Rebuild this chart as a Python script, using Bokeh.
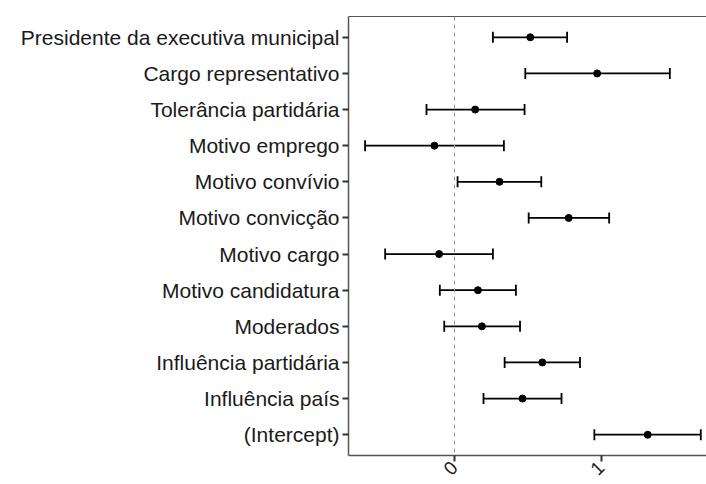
import math
from bokeh.plotting import figure
from bokeh.models import Range1d, FixedTicker, LinearAxis, Span, Whisker, ColumnDataSource, TeeHead
from bokeh.embed import file_html
from bokeh.resources import INLINE

terms = [
    "Presidente da executiva municipal",
    "Cargo representativo",
    "Tolerância partidária",
    "Motivo emprego",
    "Motivo convívio",
    "Motivo convicção",
    "Motivo cargo",
    "Motivo candidatura",
    "Moderados",
    "Influência partidária",
    "Influência país",
    "(Intercept)",
]
estimate = [0.517, 0.973, 0.141, -0.137, 0.307, 0.779, -0.105, 0.160, 0.187, 0.599, 0.464, 1.318]
conf_low = [0.262, 0.483, -0.191, -0.610, 0.021, 0.506, -0.473, -0.100, -0.070, 0.342, 0.198, 0.954]
conf_high = [0.768, 1.469, 0.478, 0.337, 0.592, 1.055, 0.262, 0.419, 0.447, 0.856, 0.730, 1.680]
x_ticks = [0, 1]
x_tick_labels = ["0", "1"]

n = len(terms)
ypos = [n - i for i in range(n)]

src = ColumnDataSource(dict(y=ypos, est=estimate, lo=conf_low, hi=conf_high))

p = figure(width=706, height=484, output_backend="svg", toolbar_location=None,
           x_range=Range1d(-0.723, 1.719), y_range=Range1d(0.425, n + 0.575),
           min_border_left=348, min_border_right=0, min_border_top=16, min_border_bottom=27)
p.background_fill_color = "white"
p.border_fill_color = "white"
p.outline_line_color = None
p.grid.visible = False

# y axis
ya = p.yaxis[0]
ya.ticker = FixedTicker(ticks=ypos)
ya.major_label_overrides = {y: t for y, t in zip(ypos, terms)}
ya.major_label_text_font = "Liberation Sans"
ya.major_label_text_font_size = "21px"
ya.major_label_text_color = "#1a1a1a"
ya.major_tick_out = 6
ya.major_tick_in = 0
ya.minor_tick_line_color = None
ya.major_tick_line_color = "#333333"
ya.major_tick_line_width = 2
ya.axis_line_color = "#555555"
ya.axis_line_width = 1.5
ya.major_label_standoff = 3

# x axis with rotated tick labels
xa = p.xaxis[0]
xa.ticker = FixedTicker(ticks=x_ticks)
xa.major_label_overrides = {v: t for v, t in zip(x_ticks, x_tick_labels)}
xa.major_label_orientation = math.pi / 4
xa.major_label_text_font = "Liberation Sans"
xa.major_label_text_font_size = "19px"
xa.major_label_text_color = "#1a1a1a"
xa.major_label_standoff = 3
xa.major_tick_out = 6
xa.major_tick_in = 0
xa.minor_tick_line_color = None
xa.major_tick_line_color = "#333333"
xa.major_tick_line_width = 2
xa.axis_line_color = "#555555"
xa.axis_line_width = 1.5

# top border
top = LinearAxis(ticker=FixedTicker(ticks=[]), major_label_text_font_size="0px",
                 axis_line_color="#555555", axis_line_width=1.2,
                 major_tick_line_color=None, minor_tick_line_color=None)
p.add_layout(top, "above")

# zero reference line
p.add_layout(Span(location=0, dimension="height", line_color="#999999",
                  line_width=1, line_dash="4 4"))

# error bars with caps
p.add_layout(Whisker(source=src, base="y", lower="lo", upper="hi", dimension="width",
                     line_color="black", line_width=1.8,
                     lower_head=TeeHead(size=11, line_color="black", line_width=1.8),
                     upper_head=TeeHead(size=11, line_color="black", line_width=1.8)))
p.scatter(x="est", y="y", source=src, size=7, color="black")

open("out.html", "w").write(file_html(p, INLINE))
